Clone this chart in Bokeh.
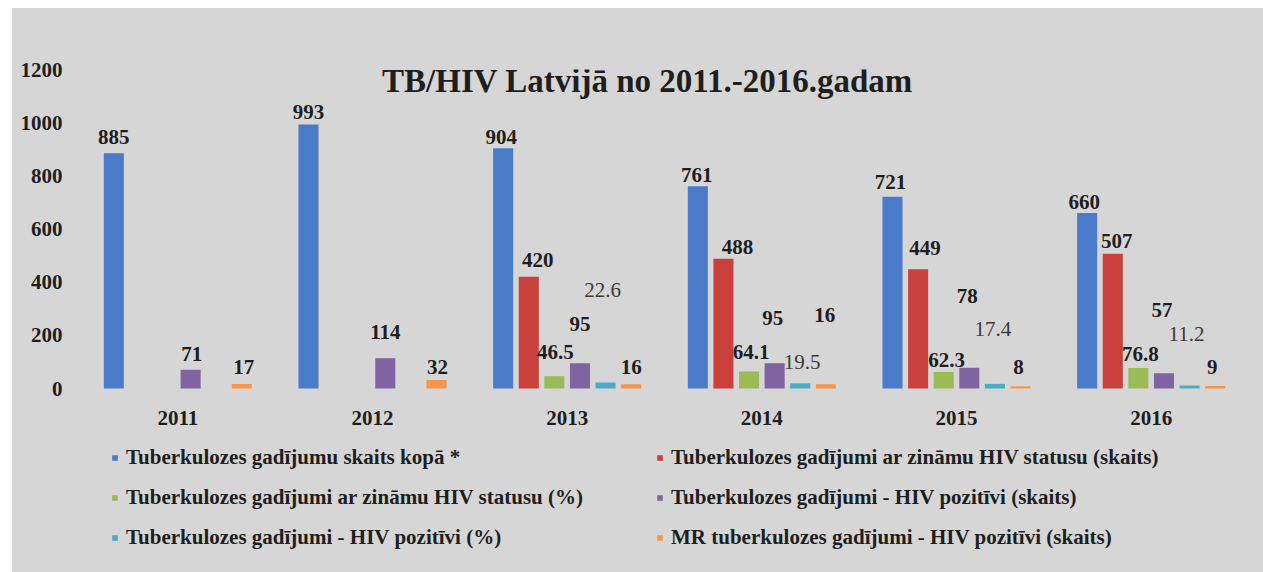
import math
from bokeh.plotting import figure
from bokeh.layouts import column, row
from bokeh.models import (ColumnDataSource, FactorRange, Range1d, FixedTicker,
                          Legend, LegendItem, Label, Spacer)
from bokeh.transform import dodge
from bokeh.core.properties import value
from bokeh.embed import file_html
from bokeh.resources import INLINE

nan = float("nan")

# ---------------- data ----------------
years = ["2011", "2012", "2013", "2014", "2015", "2016"]
tb_total = [885, 993, 904, 761, 721, 660]
tb_known_hiv = [nan, nan, 420, 488, 449, 507]
tb_known_hiv_pct = [nan, nan, 46.5, 64.1, 62.3, 76.8]
tb_hiv_pos = [71, 114, 95, 95, 78, 57]
tb_hiv_pos_pct = [nan, nan, 22.6, 19.5, 17.4, 11.2]
mdr_hiv_pos = [17, 32, 16, 16, 8, 9]
y_ticks = [0, 200, 400, 600, 800, 1000, 1200]

series_names = [
    "Tuberkulozes gadījumu skaits kopā *",
    "Tuberkulozes gadījumi ar zināmu HIV statusu (skaits)",
    "Tuberkulozes gadījumi ar zināmu HIV statusu (%)",
    "Tuberkulozes gadījumi - HIV pozitīvi (skaits)",
    "Tuberkulozes gadījumi - HIV pozitīvi (%)",
    "MR tuberkulozes gadījumi - HIV pozitīvi (skaits)",
]
series_values = [tb_total, tb_known_hiv, tb_known_hiv_pct,
                 tb_hiv_pos, tb_hiv_pos_pct, mdr_hiv_pos]

# ---------------- style ----------------
colors = ["#4A7BC8", "#C9403C", "#9BBB59", "#8064A2", "#4BACC6", "#F79646"]
# label placement (pixels): rise of label centre above bar top, horizontal shift
label_rise = [
    [16, 13, 11, 11, 15, 11],
    [0, 0, 17, 12, 21, 13],
    [0, 0, 24, 19, 12, 14],
    [16, 26, 39, 45, 72, 63],
    [0, 0, 92, 21, 55, 52],
    [17, 13, 17, 69, 19, 19],
]
label_dx = [
    [0, 0, -2, -1, -2, -3],
    [0, 0, 9, 14, 7, 4],
    [0, 0, 1, 2, 3, 2],
    [1, 0, 0, -2, -2, -2],
    [0, 0, -3, 2, -2, -3],
    [2, 1, 0, -1, -2, -3],
]
label_weight = ["bold", "bold", "bold", "bold", "normal", "bold"]
label_color = ["#1e1e1e", "#1e1e1e", "#1e1e1e", "#1e1e1e", "#3a3a3a", "#1e1e1e"]

FONT = "Liberation Serif"
BG = "#d6d6d6"
STEP = 0.1315
BAR_W = 0.103

FIG_W, FIG_H = 1251, 564
TOP, LEFT, RIGHT = 61, 68, 15
PX_PER_UNIT = 319 / 1200.0          # 0 .. 1200 spans 319 px
frame_h = FIG_H - TOP
y_start = 1200 - frame_h / PX_PER_UNIT

fig = figure(x_range=FactorRange(factors=years), y_range=Range1d(y_start, 1200),
             width=FIG_W, height=FIG_H, output_backend="svg",
             toolbar_location=None, x_axis_location=None,
             min_border_left=LEFT, min_border_right=RIGHT, min_border_top=TOP,
             min_border_bottom=0)
fig.background_fill_alpha = 0
fig.border_fill_alpha = 0
fig.styles = {"background-color": BG}
fig.outline_line_color = None
fig.xgrid.visible = False
fig.ygrid.visible = False

ax = fig.yaxis[0]
ax.axis_line_color = None
ax.major_tick_line_color = None
ax.minor_tick_line_color = None
ax.major_label_text_font = FONT
ax.major_label_text_font_style = "bold"
ax.major_label_text_font_size = "21px"
ax.major_label_text_color = "#1e1e1e"
ax.ticker = FixedTicker(ticks=y_ticks)
ax.major_label_standoff = 12


def fmt(v):
    return str(int(v)) if float(v).is_integer() else str(v)


renderers = []
for i, vals in enumerate(series_values):
    off = (i - 2.5) * STEP
    src = ColumnDataSource(dict(year=years, top=vals))
    r = fig.vbar(x=dodge("year", off, range=fig.x_range), top="top", bottom=0,
                 width=BAR_W, source=src, fill_color=colors[i], line_color=None)
    renderers.append(r)
    lx, ly, lt, ldx, ldy = [], [], [], [], []
    for j, v in enumerate(vals):
        if v is None or (isinstance(v, float) and math.isnan(v)):
            continue
        lx.append(years[j]); ly.append(v); lt.append(fmt(v))
        ldx.append(label_dx[i][j]); ldy.append(-label_rise[i][j])
    lsrc = ColumnDataSource(dict(year=lx, y=ly, t=lt, dx=ldx, dy=ldy))
    fig.text(x=dodge("year", off, range=fig.x_range), y="y", text="t",
             x_offset="dx", y_offset="dy", source=lsrc,
             text_font=value(FONT), text_font_style=label_weight[i],
             text_font_size="21px", text_color=label_color[i],
             text_align="center", text_baseline="middle")

# category labels under the bars
cat_src = ColumnDataSource(dict(year=years, y=[0] * len(years)))
fig.text(x="year", y="y", text="year", y_offset=29, source=cat_src,
         text_font=value(FONT), text_font_style="bold", text_font_size="21px",
         text_color="#1e1e1e", text_align="center", text_baseline="middle")

title = Label(x=567, y=FIG_H - 72, x_units="screen", y_units="screen",
              text="TB/HIV Latvijā no 2011.-2016.gadam",
              text_font=FONT, text_font_style="bold", text_font_size="33px",
              text_color="#1e1e1e", text_align="center",
              text_baseline="alphabetic")
fig.add_layout(title)


def make_legend(idx, loc):
    leg = Legend(items=[LegendItem(label=series_names[k], renderers=[renderers[k]])
                        for k in idx],
                 location=loc, orientation="vertical")
    leg.border_line_color = None
    leg.background_fill_alpha = 0
    leg.padding = 0
    leg.margin = 0
    leg.spacing = 15
    leg.glyph_width = 7
    leg.glyph_height = 7
    leg.label_height = 24
    leg.label_standoff = 8
    leg.label_text_font = FONT
    leg.label_text_font_style = "bold"
    leg.label_text_font_size = "21px"
    leg.label_text_color = "#1e1e1e"
    leg.label_text_baseline = "middle"
    return leg


fig.add_layout(make_legend([0, 2, 4], (31, 22)))
fig.add_layout(make_legend([1, 3, 5], (576, 22)))

p = column(Spacer(height=8, width=FIG_W + 12),
           row(Spacer(width=12, height=FIG_H), fig))

open("out.html", "w").write(file_html(p, INLINE))
